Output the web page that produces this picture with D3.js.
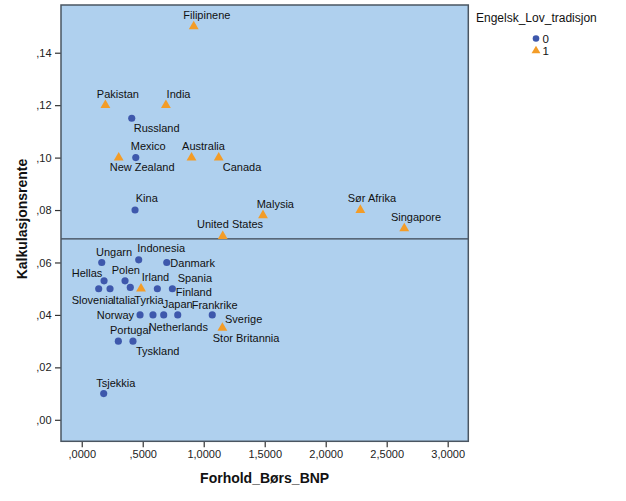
<!DOCTYPE html>
<html><head><meta charset="utf-8">
<script src="https://cdn.jsdelivr.net/npm/d3@7"></script>
<style>body{margin:0;background:#fff;}svg{display:block;font-family:Arial,"Liberation Sans",sans-serif;}</style>
</head><body><svg id="c" width="626" height="501"></svg>
<script>
// ---- data ----
const countries = ["Filipinene","Pakistan","India","Russland","Mexico","Australia","New Zealand","Canada","Kina","Malysia","United States","Sør Afrika","Singapore",
  "Ungarn","Indonesia","Danmark","Hellas","Polen","Slovenia","Italia","Tyrkia","Irland","Spania","Finland",
  "Norway","Netherlands","Japan","Frankrike","Sverige","Stor Britannia","Portugal","Tyskland","Tsjekkia"];
const borsBNP = [0.918,0.194,0.690,0.410,0.443,0.900,0.303,1.123,0.437,1.486,1.156,2.284,2.644,
  0.164,0.467,0.697,0.183,0.355,0.139,0.232,0.398,0.486,0.620,0.743,
  0.478,0.584,0.672,0.787,1.070,1.153,0.300,0.420,0.180];
const kalkRente = [0.150,0.120,0.120,0.115,0.100,0.100,0.100,0.100,0.080,0.078,0.070,0.080,0.073,
  0.060,0.061,0.060,0.053,0.053,0.050,0.050,0.0505,0.050,0.050,0.050,
  0.040,0.040,0.040,0.040,0.040,0.035,0.030,0.030,0.010];
const engelskLov = [1,1,1,0,0,1,1,1,0,1,1,1,1,
  0,0,0,0,0,0,0,0,1,0,0,
  0,0,0,0,0,1,0,0,0];
const xTicks = [0,0.5,1,1.5,2,2.5,3];
const yTicks = [0,0.02,0.04,0.06,0.08,0.10,0.12,0.14];
const refLine = 0.069;
const groups = ["0","1"];

// label placement offsets (px, from point to text start/baseline)
const labelOffsets = [[-10.4,-7.3],[-8.6,-7.4],[0.7,-7.4],[2,14],[-5,-7.3],[-9.4,-7.3],[-9,13.7],[4,13.7],[0.7,-7.7],[-6.3,-7],[-25.7,-8.3],[-12.6,-8],[-13.3,-7.7],
  [-5.7,-6.6],[-1.4,-7.4],[3.6,4.7],[-32.3,-4],[-13.3,-7],[-27,15.4],[2.7,15.4],[4,16.7],[0.7,-7.7],[20.4,-7],[3.4,7],
  [-43.3,4],[-4.3,15.6],[-1,-6.7],[14,-6],[12.7,7.6],[-9.6,14.3],[-8.3,-7.4],[3,14.3],[-7.4,-6.6]];

const svg = d3.select("#c");
const L=61, T=5, R=468.3, B=441.3;
const x = d3.scaleLinear().domain([-0.17,3.169]).range([L,R]);
const y = d3.scaleLinear().domain([-0.0082,0.1582]).range([B,T]);
const color = d3.scaleOrdinal().domain(groups).range(["#3e58ac","#f39c27"]);
const shape = d3.scaleOrdinal().domain(groups).range([d3.symbolCircle,d3.symbolTriangle]);
const sizeS = d3.scaleOrdinal().domain(groups).range([40,42]);

svg.append("rect").attr("x",L).attr("y",T).attr("width",R-L).attr("height",B-T).attr("fill","#afd0ee");

const fmtX = v => { let s=v.toFixed(4).replace(".",","); return v<1? s.replace(/^0/,""):s; };
const fmtY = v => v.toFixed(2).replace(".",",").replace(/^0/,"");

const xAxis = svg.append("g").attr("transform",`translate(0,${B})`)
  .call(d3.axisBottom(x).tickValues(xTicks).tickFormat(fmtX).tickSize(6).tickSizeOuter(0));
const yAxis = svg.append("g").attr("transform",`translate(${L},0)`)
  .call(d3.axisLeft(y).tickValues(yTicks).tickFormat(fmtY).tickSize(6).tickSizeOuter(0));
[xAxis,yAxis].forEach(a=>{
  a.select(".domain").remove();
  a.selectAll("line").attr("stroke","#333").attr("stroke-width",1.2);
  a.selectAll("text").attr("fill","#222").attr("font-size","11px").attr("font-family","Arial, 'Liberation Sans', sans-serif");
});
yAxis.selectAll("text").attr("dx","-0.5px");

// reference line
svg.append("line").attr("x1",L).attr("x2",R).attr("y1",y(refLine)).attr("y2",y(refLine))
  .attr("stroke","#3a4450").attr("stroke-width",1.2);

// frame
svg.append("rect").attr("x",L).attr("y",T).attr("width",R-L).attr("height",B-T)
  .attr("fill","none").attr("stroke","#4a5561").attr("stroke-width",1.5);

const idx = d3.range(countries.length);
svg.append("g").selectAll("path").data(idx).join("path")
  .attr("transform",i=>`translate(${x(borsBNP[i])},${y(kalkRente[i])})`)
  .attr("d",i=>d3.symbol().type(shape(String(engelskLov[i]))).size(sizeS(String(engelskLov[i])))())
  .attr("fill",i=>color(String(engelskLov[i])));

svg.append("g").selectAll("text").data(idx).join("text")
  .attr("x",i=>x(borsBNP[i])+labelOffsets[i][0])
  .attr("y",i=>y(kalkRente[i])+labelOffsets[i][1])
  .attr("font-size","11px").attr("fill","#111")
  .text(i=>countries[i]);

// axis titles
svg.append("text").attr("x",(L+R)/2).attr("y",483.3).attr("text-anchor","middle")
  .attr("font-weight","bold").attr("font-size","14px").attr("fill","#111").text("Forhold_Børs_BNP");
svg.append("text").attr("transform","translate(27,219) rotate(-90)").attr("text-anchor","middle")
  .attr("font-weight","bold").attr("font-size","14px").attr("fill","#111").text("Kalkulasjonsrente");

// legend
const lg = svg.append("g");
lg.append("text").attr("x",476).attr("y",22).attr("font-size","12px").attr("fill","#111").text("Engelsk_Lov_tradisjon");
groups.forEach((g,k)=>{
  const cy = 38.5 + k*12.3;
  lg.append("path").attr("transform",`translate(536,${cy})`)
    .attr("d",d3.symbol().type(shape(g)).size(34)()).attr("fill",color(g));
  lg.append("text").attr("x",542.5).attr("y",cy+4.5).attr("font-size","11.5px").attr("fill","#111").text(g);
});
</script></body></html>
